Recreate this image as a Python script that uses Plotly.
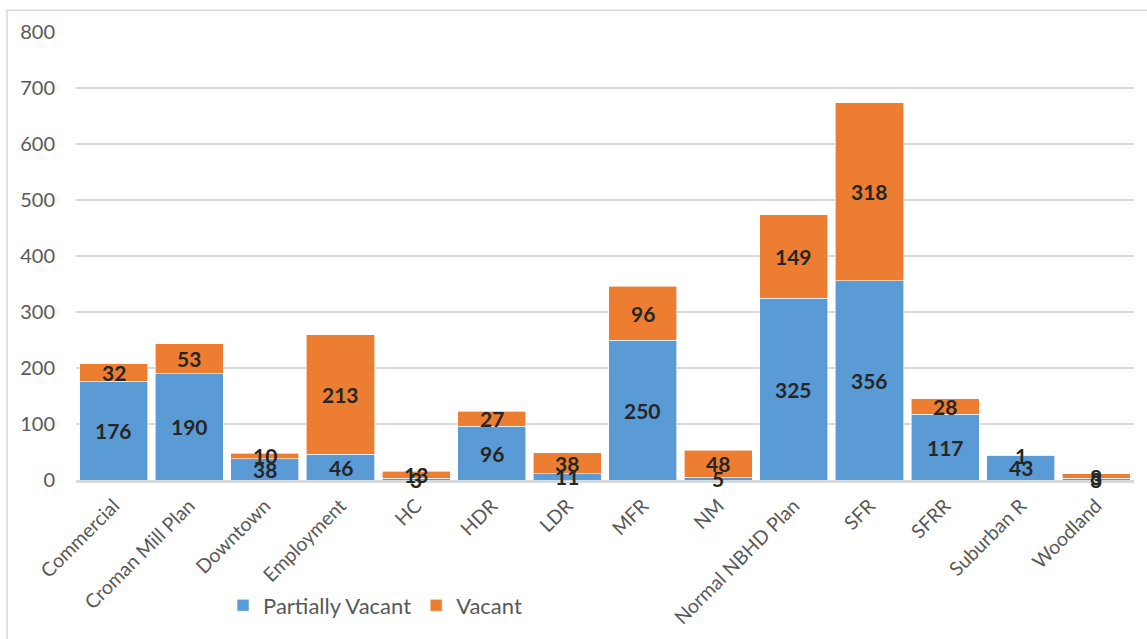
import plotly.graph_objects as go

categories = ["Commercial", "Croman Mill Plan", "Downtown", "Employment", "HC", "HDR", "LDR",
              "MFR", "NM", "Normal NBHD Plan", "SFR", "SFRR", "Suburban R", "Woodland"]
partially_vacant = [176, 190, 38, 46, 3, 96, 11, 250, 5, 325, 356, 117, 43, 3]
vacant = [32, 53, 10, 213, 13, 27, 38, 96, 48, 149, 318, 28, 1, 8]
y_ticks = [0, 100, 200, 300, 400, 500, 600, 700, 800]

BLUE = "#5B9BD5"
ORANGE = "#ED7D31"
FONT = "Lato"

fig = go.Figure()
fig.add_trace(go.Bar(x=categories, y=partially_vacant, name="Partially Vacant",
                     marker=dict(color=BLUE, line=dict(color="white", width=0.6))))
fig.add_trace(go.Bar(x=categories, y=vacant, name="Vacant",
                     marker=dict(color=ORANGE, line=dict(color="white", width=0.6))))

annotations = []
for c, p, v in zip(categories, partially_vacant, vacant):
    annotations.append(dict(x=c, y=p / 2, text=str(p), showarrow=False, xref="x", yref="y",
                            font=dict(family=FONT, size=21, color="#262626", weight="bold"),
                            yanchor="middle"))
    annotations.append(dict(x=c, y=p + v / 2, text=str(v), showarrow=False, xref="x", yref="y",
                            font=dict(family=FONT, size=21, color="#262626", weight="bold"),
                            yanchor="middle"))

fig.update_layout(
    barmode="stack",
    bargap=0.1,
    width=1147, height=639,
    margin=dict(l=76, r=13, t=32, b=155),
    paper_bgcolor="white", plot_bgcolor="white",
    font=dict(family=FONT, color="#595959"),
    annotations=annotations,
    showlegend=True,
    legend=dict(orientation="h", x=0.139, xanchor="left", y=-0.28, yanchor="middle",
                font=dict(family=FONT, size=22, color="#595959"), traceorder="normal",
                itemwidth=30),
    xaxis=dict(tickangle=-45, tickfont=dict(family=FONT, size=19.5, color="#595959"),
               showline=True, linecolor="#D9D9D9", linewidth=2.5, ticks="",
               ticklabelstandoff=4, automargin=False),
    yaxis=dict(range=[0, 800], tickvals=y_ticks, showgrid=True, gridcolor="#D9D9D9",
               gridwidth=1.5, zeroline=False, ticks="", ticklabelstandoff=20, automargin=False,
               tickfont=dict(family=FONT, size=20, color="#595959")),
    shapes=[dict(type="rect", xref="paper", yref="paper", x0=-0.0652, x1=1.02, y0=-0.37, y1=1.0487,
                 line=dict(color="#D9D9D9", width=1.5), fillcolor="rgba(0,0,0,0)", layer="below")],
)

fig.write_html("out.html")
